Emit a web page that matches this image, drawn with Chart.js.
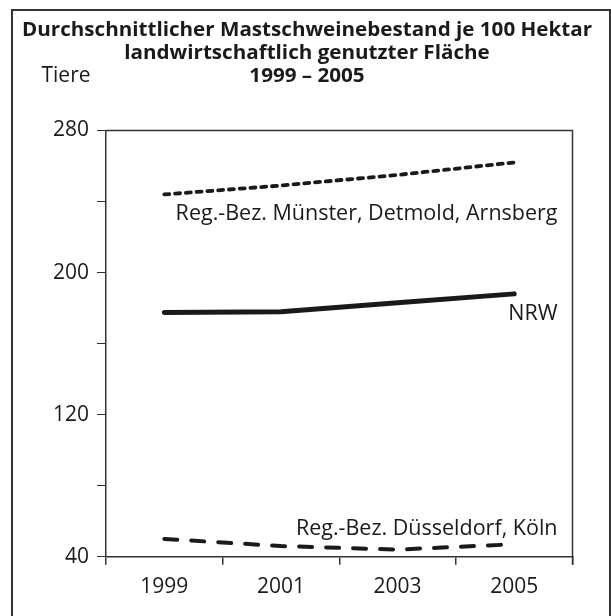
<!DOCTYPE html>
<html><head><meta charset="utf-8">
<script src="https://cdn.jsdelivr.net/npm/chart.js@4"></script>
<style>html,body{margin:0;padding:0;background:#fff}canvas{display:block}</style>
</head><body>
<canvas id="c" width="611" height="616"></canvas>
<script>
// ---- data ----
const years = ['1999', '2001', '2003', '2005'];
const muensterDetmoldArnsberg = [244, 249, 255, 262];
const nrw = [177.5, 178, 183, 188];
const duesseldorfKoeln = [50, 46, 44, 47];
const yTickLabels = [40, 120, 200, 280];
const titleLines = ['Durchschnittlicher Mastschweinebestand je 100 Hektar', 'landwirtschaftlich genutzter Fläche', '1999 – 2005'];
const unitLabel = 'Tiere';
const seriesNames = ['Reg.-Bez. Münster, Detmold, Arnsberg', 'NRW', 'Reg.-Bez. Düsseldorf, Köln'];

const FONT = '"Open Sans", "DejaVu Sans", sans-serif';
const INK = '#1a1a1a';

// label anchors in data units (y) for the in-chart series names
const labelAnchors = [229.6, 173.3, 52];

const decor = {
  id: 'decor',
  beforeDraw(chart) {
    const ctx = chart.ctx;
    ctx.save();
    ctx.fillStyle = '#fff';
    ctx.fillRect(0, 0, chart.width, chart.height);
    // outer frame
    ctx.strokeStyle = '#333';
    ctx.lineWidth = 2;
    ctx.strokeRect(12, 10, 598, 640);
    // title
    ctx.fillStyle = INK;
    ctx.textAlign = 'center';
    ctx.textBaseline = 'alphabetic';
    ctx.font = 'bold 19px ' + FONT;
    const sx = 570 / ctx.measureText(titleLines[0]).width;
    const baselines = [36, 58.5, 81.5];
    titleLines.forEach((t, i) => {
      ctx.save();
      ctx.translate(307, baselines[i]);
      ctx.scale(sx, 1);
      ctx.fillText(t, 0, 0);
      ctx.restore();
    });
    ctx.font = '21px ' + FONT;
    ctx.textAlign = 'left';
    ctx.fillText(unitLabel, 41.5, 81.5);
    ctx.restore();
  },
  beforeDatasetsDraw(chart) {
    const ctx = chart.ctx, a = chart.chartArea;
    ctx.save();
    ctx.strokeStyle = '#333';
    ctx.lineWidth = 1.5;
    ctx.beginPath();
    ctx.moveTo(a.left, a.top);
    ctx.lineTo(a.right, a.top);
    ctx.lineTo(a.right, a.bottom + 8);
    ctx.stroke();
    ctx.restore();
  },
  afterDatasetsDraw(chart) {
    const ctx = chart.ctx, a = chart.chartArea, ys = chart.scales.y;
    ctx.save();
    ctx.fillStyle = INK;
    ctx.font = '21.5px ' + FONT;
    ctx.textAlign = 'right';
    ctx.textBaseline = 'alphabetic';
    seriesNames.forEach((n, i) => ctx.fillText(n, a.right - 15, ys.getPixelForValue(labelAnchors[i])));
    ctx.restore();
  }
};

new Chart(document.getElementById('c'), {
  type: 'line',
  data: {
    labels: years,
    datasets: [
      { label: seriesNames[0], data: muensterDetmoldArnsberg, borderColor: INK, borderWidth: 3.8, borderDash: [5, 5.8], borderCapStyle: 'round', pointRadius: 0, tension: 0 },
      { label: seriesNames[1], data: nrw, borderColor: INK, borderWidth: 5, borderCapStyle: 'round', pointRadius: 0, tension: 0 },
      { label: seriesNames[2], data: duesseldorfKoeln, borderColor: INK, borderWidth: 4, borderDash: [13, 14], borderCapStyle: 'round', pointRadius: 0, tension: 0 }
    ]
  },
  options: {
    responsive: false,
    animation: false,
    events: [],
    layout: { padding: { left: 0, top: 130.5, right: 38.5, bottom: 0 } },
    plugins: { legend: { display: false }, title: { display: false }, tooltip: { enabled: false } },
    scales: {
      x: {
        offset: true,
        grid: { offset: true, drawOnChartArea: false, drawTicks: true, tickLength: 8, color: '#333', lineWidth: 1.5 },
        border: { color: '#333', width: 1.5 },
        ticks: { color: INK, font: { family: FONT, size: 21 }, padding: 10, maxRotation: 0 },
        afterFit(s) { s.height = 59.3; }
      },
      y: {
        min: 40, max: 280,
        grid: { drawOnChartArea: false, drawTicks: true, tickLength: 9, color: '#333', lineWidth: 1 },
        border: { color: '#333', width: 1.5 },
        ticks: {
          stepSize: 40, color: INK, font: { family: FONT, size: 21 }, padding: 8,
          callback: v => yTickLabels.includes(v) ? String(v) : ''
        },
        afterFit(s) { s.width = 106; }
      }
    }
  },
  plugins: [decor]
});
</script>
</body></html>
